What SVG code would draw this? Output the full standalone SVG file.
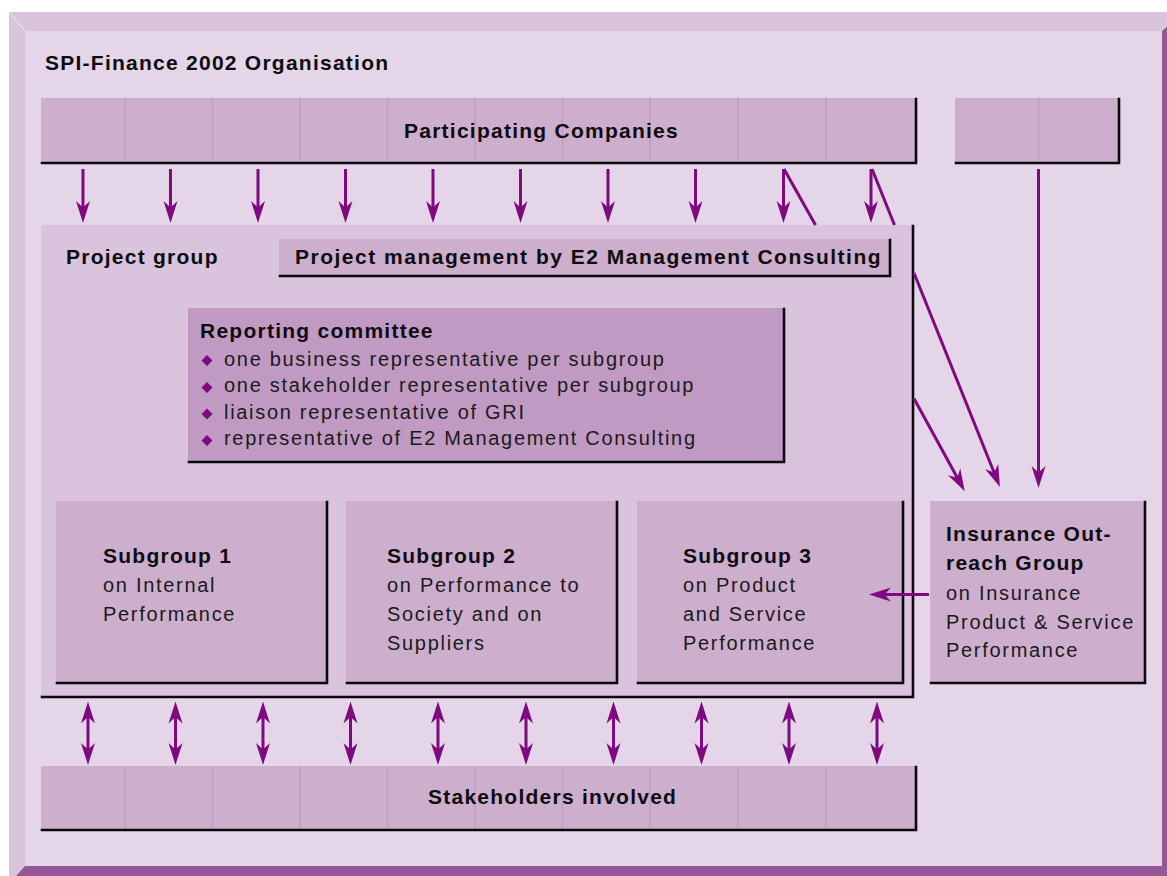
<svg xmlns="http://www.w3.org/2000/svg" width="1167" height="876" viewBox="0 0 1167 876">
<defs>
<style>
.face{fill:#e4d6e8}
.bar{fill:#cdaecd}
.grp{fill:#d9c3dd}
.rep{fill:#c09ac3}
.div{stroke:#c19dc5;stroke-width:1.6;fill:none}
.edge{stroke:#0a0a0a;stroke-width:2.6;fill:none;stroke-linecap:square}
.b{font-family:"Liberation Sans",Arial,Helvetica,sans-serif;font-weight:bold;font-size:21px;letter-spacing:1.25px;fill:#0d0d0d}
.r{font-family:"Liberation Sans",Arial,Helvetica,sans-serif;font-size:20px;letter-spacing:1.7px;fill:#1a1a1a}
.ln{stroke:#7f0a80;stroke-width:3;fill:none}
.bul{fill:#7f0a80}
</style>
<marker id="ah" viewBox="-1 -8 24 16" refX="8" refY="0" markerWidth="24" markerHeight="16" markerUnits="userSpaceOnUse" orient="auto-start-reverse">
<path d="M22,0 L0,-7 L6.5,0 L0,7 Z" fill="#7f0a80"/>
</marker>
</defs>

<g id="frame">
<rect x="9" y="12" width="1170" height="880" fill="#d9c4dc"/>
<polygon points="1185,12 1162,31 1162,866 25,866 16,876 1185,876" fill="#96569a"/>
<rect class="face" x="25" y="31" width="1137" height="835"/>
<line x1="9" y1="12" x2="25" y2="31" stroke="#f4eef5" stroke-width="1"/>
</g>

<g id="title">
<text class="b" x="45" y="70">SPI-Finance 2002 Organisation</text>
</g>

<g id="participating-companies">
<rect class="bar" x="41" y="98" width="875" height="65"/>
<path class="div" d="M125,98V163M212.5,98V163M300,98V163M387.5,98V163M475,98V163M562.5,98V163M650,98V163M738,98V163M826,98V163"/>
<polyline class="edge" points="916,99 916,163 42,163"/>
<text class="b" x="404" y="138">Participating Companies</text>
</g>

<g id="other-companies">
<rect class="bar" x="955" y="98" width="164" height="65"/>
<path class="div" d="M1038.5,98V163"/>
<polyline class="edge" points="1119,99 1119,163 956,163"/>
</g>

<g id="project-group">
<rect class="grp" x="41" y="225" width="872" height="472"/>
<polyline class="edge" points="913,226 913,697 42,697"/>
<text class="b" x="66" y="264">Project group</text>
</g>

<g id="project-management">
<rect class="bar" x="279" y="239" width="611" height="37"/>
<polyline class="edge" points="890,240 890,276 280,276"/>
<text class="b" x="295" y="264" style="letter-spacing:1.5px">Project management by E2 Management Consulting</text>
</g>

<g id="reporting-committee">
<rect class="rep" x="188" y="308" width="596" height="154"/>
<polyline class="edge" points="784,309 784,462 189,462"/>
<text class="b" x="200" y="338">Reporting committee</text>
<path class="bul" d="M207,355L212.5,360.5L207,366L201.5,360.5ZM207,382L212.5,387.5L207,393L201.5,387.5ZM207,408.5L212.5,414L207,419.5L201.5,414ZM207,435L212.5,440.5L207,446L201.5,440.5Z"/>
<text class="r" x="224" y="365.5">one business representative per subgroup</text>
<text class="r" x="224" y="392">one stakeholder representative per subgroup</text>
<text class="r" x="224" y="418.5">liaison representative of GRI</text>
<text class="r" x="224" y="445">representative of E2 Management Consulting</text>
</g>

<g id="subgroup-1">
<rect class="bar" x="56" y="501" width="271" height="182"/>
<polyline class="edge" points="327,502 327,683 57,683"/>
<text class="b" x="103" y="562.5">Subgroup 1</text>
<text class="r" x="103" y="591.5">on Internal</text>
<text class="r" x="103" y="620.5">Performance</text>
</g>

<g id="subgroup-2">
<rect class="bar" x="346" y="501" width="271" height="182"/>
<polyline class="edge" points="617,502 617,683 347,683"/>
<text class="b" x="387" y="562.5">Subgroup 2</text>
<text class="r" x="387" y="592">on Performance to</text>
<text class="r" x="387" y="621">Society and on</text>
<text class="r" x="387" y="650">Suppliers</text>
</g>

<g id="subgroup-3">
<rect class="bar" x="637" y="501" width="266" height="182"/>
<polyline class="edge" points="903,502 903,683 638,683"/>
<text class="b" x="683" y="562.5">Subgroup 3</text>
<text class="r" x="683" y="591.5">on Product</text>
<text class="r" x="683" y="620.5">and Service</text>
<text class="r" x="683" y="649.5">Performance</text>
</g>

<g id="insurance-outreach">
<rect class="bar" x="930" y="501" width="215" height="182"/>
<polyline class="edge" points="1145,502 1145,683 931,683"/>
<text class="b" x="946" y="541">Insurance Out-</text>
<text class="b" x="946" y="570">reach Group</text>
<text class="r" x="946" y="599.5">on Insurance</text>
<text class="r" x="946" y="628.5">Product &amp; Service</text>
<text class="r" x="946" y="657">Performance</text>
</g>

<g id="stakeholders">
<rect class="bar" x="41" y="766" width="875" height="64"/>
<path class="div" d="M125,766V830M212.5,766V830M300,766V830M387.5,766V830M475,766V830M562.5,766V830M650,766V830M738,766V830M826,766V830"/>
<polyline class="edge" points="916,767 916,830 42,830"/>
<text class="b" x="428" y="804">Stakeholders involved</text>
</g>

<g id="connectors">
<path class="ln" marker-end="url(#ah)" d="M83,169V209"/>
<path class="ln" marker-end="url(#ah)" d="M170.5,169V209"/>
<path class="ln" marker-end="url(#ah)" d="M258,169V209"/>
<path class="ln" marker-end="url(#ah)" d="M345.5,169V209"/>
<path class="ln" marker-end="url(#ah)" d="M433,169V209"/>
<path class="ln" marker-end="url(#ah)" d="M520.5,169V209"/>
<path class="ln" marker-end="url(#ah)" d="M608,169V209"/>
<path class="ln" marker-end="url(#ah)" d="M695.5,169V209"/>
<path class="ln" marker-end="url(#ah)" d="M783.5,169V209"/>
<path class="ln" marker-end="url(#ah)" d="M871,169V209"/>
<path class="ln" d="M784,169L815.5,225"/>
<path class="ln" marker-end="url(#ah)" d="M914,398.5L958,479"/>
<path class="ln" d="M872,169L894.5,225"/>
<path class="ln" marker-end="url(#ah)" d="M914,273L994.7,474"/>
<path class="ln" marker-end="url(#ah)" d="M1038.5,169V474"/>
<path class="ln" marker-end="url(#ah)" d="M929,594.5H883"/>
<path class="ln" marker-start="url(#ah)" marker-end="url(#ah)" d="M88,715.5V751"/>
<path class="ln" marker-start="url(#ah)" marker-end="url(#ah)" d="M175.5,715.5V751"/>
<path class="ln" marker-start="url(#ah)" marker-end="url(#ah)" d="M263,715.5V751"/>
<path class="ln" marker-start="url(#ah)" marker-end="url(#ah)" d="M350.5,715.5V751"/>
<path class="ln" marker-start="url(#ah)" marker-end="url(#ah)" d="M438,715.5V751"/>
<path class="ln" marker-start="url(#ah)" marker-end="url(#ah)" d="M526,715.5V751"/>
<path class="ln" marker-start="url(#ah)" marker-end="url(#ah)" d="M613.5,715.5V751"/>
<path class="ln" marker-start="url(#ah)" marker-end="url(#ah)" d="M701.5,715.5V751"/>
<path class="ln" marker-start="url(#ah)" marker-end="url(#ah)" d="M789,715.5V751"/>
<path class="ln" marker-start="url(#ah)" marker-end="url(#ah)" d="M877,715.5V751"/>
</g>
</svg>
